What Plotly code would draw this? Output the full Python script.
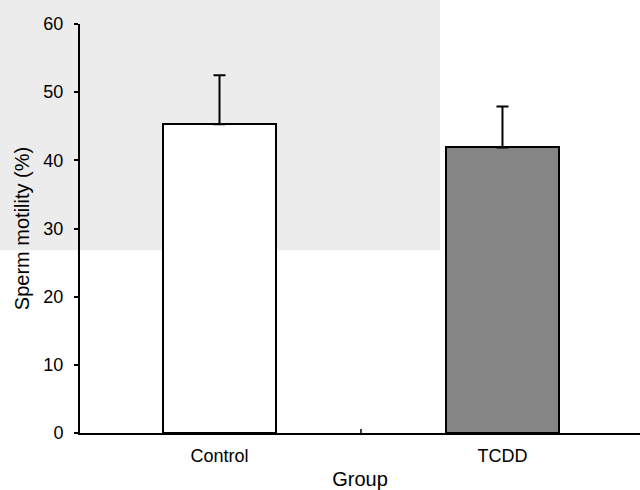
import plotly.graph_objects as go

groups = ["Control", "TCDD"]
motility = [45.3, 41.9]
sem = [7.2, 6.0]
bar_colors = ["#ffffff", "#858585"]

fig = go.Figure()
fig.add_trace(go.Bar(
    x=groups, y=motility,
    width=0.4,
    marker=dict(color=bar_colors, line=dict(color="black", width=2)),
    error_y=dict(type="data", array=sem, symmetric=False, arrayminus=[0, 0],
                 color="black", thickness=2, width=6),
    showlegend=False,
))

# scanned-paper grey tint in upper-left
fig.add_shape(type="rect", xref="paper", yref="paper",
              x0=-0.143, x1=0.643, y0=0.447, y1=1.06,
              fillcolor="#ececec", line=dict(width=0), layer="below")
# small middle tick on the x axis
fig.add_shape(type="line", xref="x", yref="y", x0=0.5, x1=0.5, y0=0, y1=0.6,
              line=dict(color="black", width=1.5))

fig.update_layout(
    width=640, height=490,
    margin=dict(l=80, r=0, t=24, b=57),
    paper_bgcolor="white", plot_bgcolor="rgba(0,0,0,0)",
    font=dict(family="Liberation Sans, Arial", color="black", size=18),
    xaxis=dict(
        range=[-0.493, 1.486], showline=True, linecolor="black", linewidth=2,
        ticks="", showgrid=False, zeroline=False, tickfont=dict(size=18),
        ticklabelstandoff=5,
        title=dict(text="Group", font=dict(size=20), standoff=11),
    ),
    yaxis=dict(
        range=[0, 60], dtick=10, showline=True, linecolor="black", linewidth=2,
        ticks="outside", ticklen=4, tickwidth=1.5, tickcolor="black",
        showgrid=False, zeroline=False, tickfont=dict(size=18),
        ticklabelstandoff=7,
        title=dict(text="Sperm motility (%)", font=dict(size=20), standoff=8),
    ),
    bargap=0,
)

fig.write_html("out.html")
